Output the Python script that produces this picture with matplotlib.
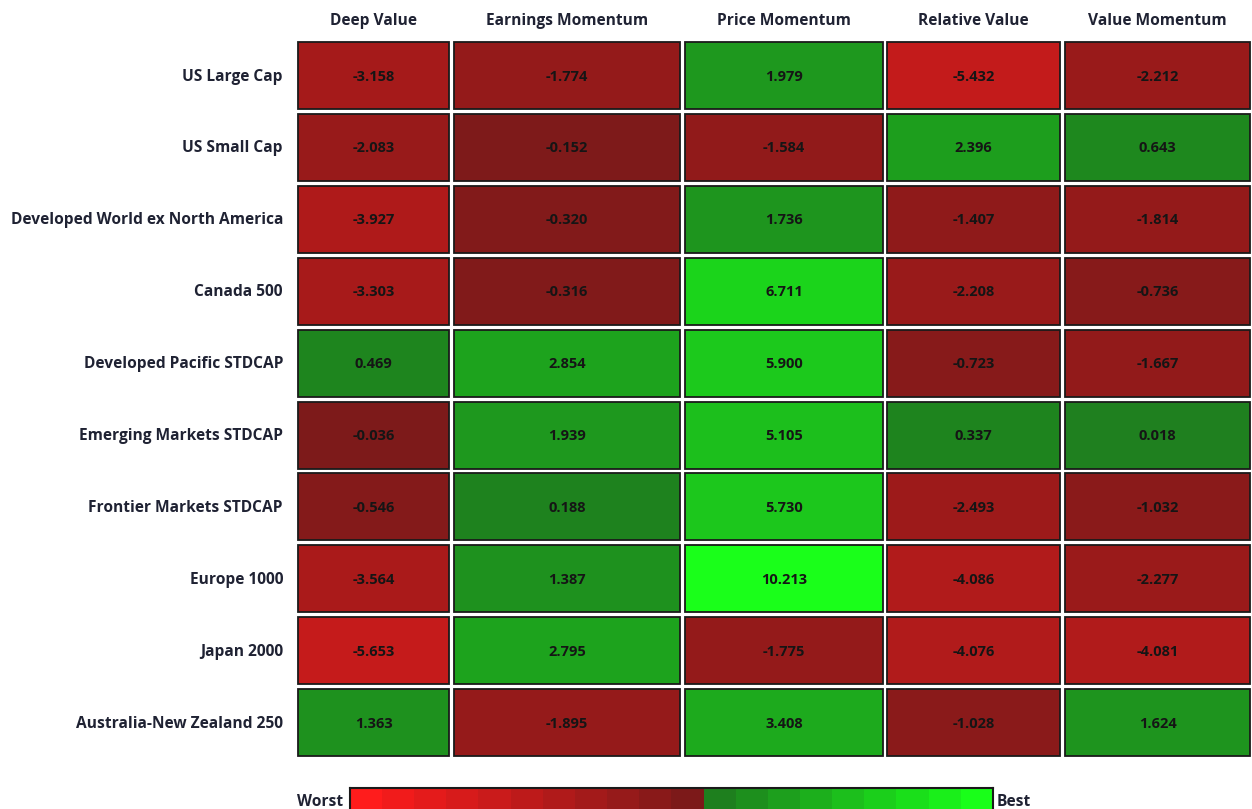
import matplotlib
matplotlib.use("Agg")
import matplotlib.pyplot as plt
from matplotlib.patches import Rectangle
from matplotlib.colors import LinearSegmentedColormap, Normalize, ListedColormap
import numpy as np

# ---------------- data ----------------
columns = ["Deep Value", "Earnings Momentum", "Price Momentum", "Relative Value", "Value Momentum"]
rows = ["US Large Cap", "US Small Cap", "Developed World ex North America", "Canada 500",
        "Developed Pacific STDCAP", "Emerging Markets STDCAP", "Frontier Markets STDCAP",
        "Europe 1000", "Japan 2000", "Australia-New Zealand 250"]

deep_value = [-3.158, -2.083, -3.927, -3.303, 0.469, -0.036, -0.546, -3.564, -5.653, 1.363]
earnings_momentum = [-1.774, -0.152, -0.320, -0.316, 2.854, 1.939, 0.188, 1.387, 2.795, -1.895]
price_momentum = [1.979, -1.584, 1.736, 6.711, 5.900, 5.105, 5.730, 10.213, -1.775, 3.408]
relative_value = [-5.432, 2.396, -1.407, -2.208, -0.723, 0.337, -2.493, -4.086, -4.076, -1.028]
value_momentum = [-2.212, 0.643, -1.814, -0.736, -1.667, 0.018, -1.032, -2.277, -4.081, 1.624]

legend_low, legend_high = "Worst", "Best"

values = np.array([deep_value, earnings_momentum, price_momentum, relative_value, value_momentum]).T

# ---------------- style ----------------
W, H = 1252, 809
fig = plt.figure(figsize=(W / 100, H / 100), dpi=100)
ax = fig.add_axes([0, 0, 1, 1])
ax.set_xlim(0, W)
ax.set_ylim(H, 0)
ax.axis("off")

bright_red = (1.0, 0.11, 0.11)
dark_red = (0.49, 0.10, 0.10)
dark_green = (0.12, 0.50, 0.12)
bright_green = (0.10, 1.0, 0.10)
cmap = LinearSegmentedColormap.from_list(
    "rg", [(0.0, bright_red), (0.5, dark_red), (0.5, dark_green), (1.0, bright_green)])
vmax = np.abs(values).max()
norm = Normalize(-vmax, vmax)

col_left = [298, 454, 685, 887, 1065]
col_right = [449, 680, 883, 1060, 1250]
row_top0, row_pitch, row_h = 42, 71.9, 67

font = ["Open Sans", "DejaVu Sans"]
text_color = "#1f2233"
label_size = 11.2
value_size = 10.5

for j, name in enumerate(columns):
    cx = (col_left[j] + col_right[j]) / 2
    ax.text(cx, 21, name, ha="center", va="center", fontsize=label_size, fontweight="bold",
            family=font, color=text_color)

for i, rname in enumerate(rows):
    top = row_top0 + i * row_pitch
    cy = top + row_h / 2
    ax.text(283, cy + 1, rname, ha="right", va="center", fontsize=label_size, fontweight="bold",
            family=font, color=text_color)
    for j in range(len(columns)):
        v = values[i, j]
        ax.add_patch(Rectangle((col_left[j], top), col_right[j] - col_left[j], row_h,
                               facecolor=cmap(norm(v)), edgecolor="#1a1a1a", linewidth=1.3))
        ax.text((col_left[j] + col_right[j]) / 2, cy + 1, f"{v:.3f}", ha="center", va="center",
                fontsize=value_size, fontweight="bold", family=font, color="#151515")

# ---------------- legend bar ----------------
n_red, n_green = 11, 9
red_cols = [tuple(np.array(bright_red) + (np.array(dark_red) - np.array(bright_red)) * k / (n_red - 1))
            for k in range(n_red)]
green_cols = [tuple(np.array(dark_green) + (np.array(bright_green) - np.array(dark_green)) * k / (n_green - 1))
              for k in range(n_green)]
seg_cmap = ListedColormap(red_cols + green_cols)
cax = fig.add_axes([350 / W, 1 - 822 / H, (993 - 350) / W, (822 - 788) / H])
cax.imshow(np.arange(n_red + n_green)[None, :], cmap=seg_cmap, aspect="auto",
           interpolation="nearest")
cax.set_xticks([])
cax.set_yticks([])
for s in cax.spines.values():
    s.set_color("#1a1a1a")
    s.set_linewidth(1.5)

ax.text(343, 802, legend_low, ha="right", va="center", fontsize=label_size, fontweight="bold",
        family=font, color=text_color)
ax.text(997, 802, legend_high, ha="left", va="center", fontsize=label_size, fontweight="bold",
        family=font, color=text_color)

fig.savefig("out.png", dpi=100)
